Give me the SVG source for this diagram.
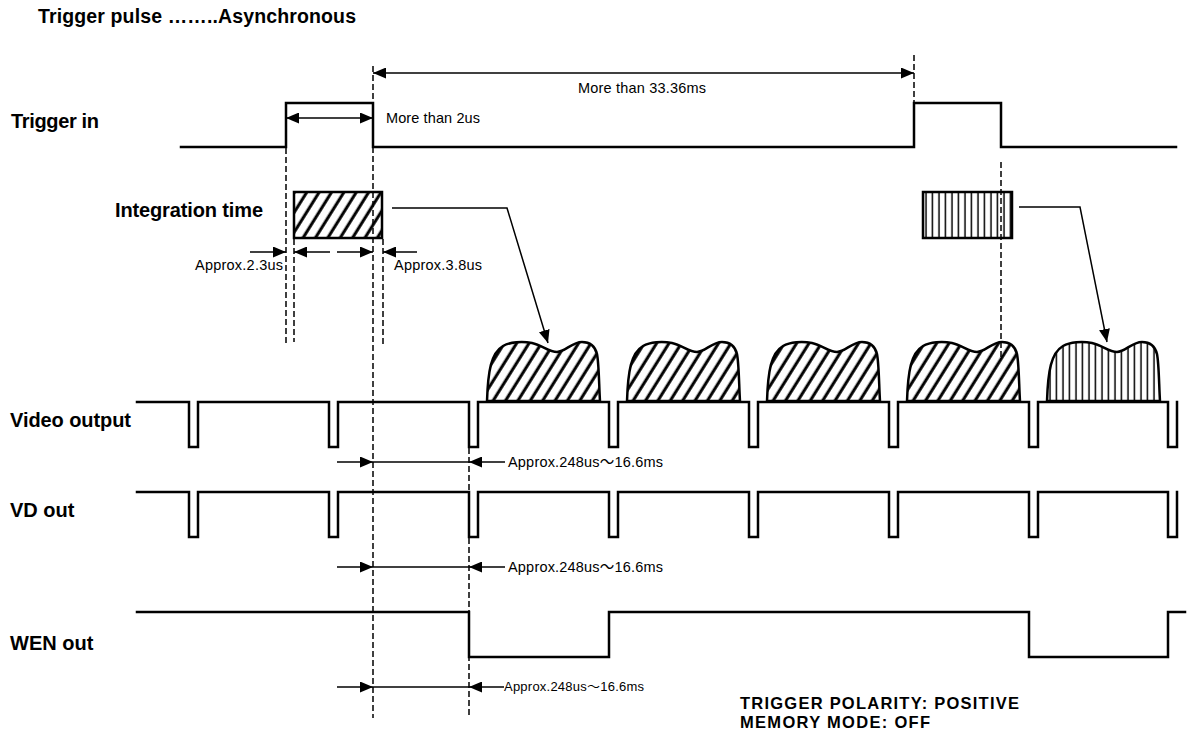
<svg xmlns="http://www.w3.org/2000/svg" width="1188" height="738" viewBox="0 0 1188 738">
<style>
.sig{fill:none;stroke:#000;stroke-width:2.5;stroke-linejoin:miter;stroke-linecap:square}
.dash{fill:none;stroke:#000;stroke-width:1.5;stroke-dasharray:6 3}
.dim{fill:none;stroke:#000;stroke-width:1.5}
.lbl{font-family:"Liberation Sans",Arial,sans-serif;font-weight:bold;font-size:20px;fill:#000}
.sm{font-family:"Liberation Sans","Noto Sans CJK JP",sans-serif;font-size:14.5px;fill:#000}
.hump{stroke:#000;stroke-width:2.5}
</style>
<defs>
<marker id="ah" markerUnits="userSpaceOnUse" markerWidth="13" markerHeight="11" refX="13" refY="5.5" orient="auto-start-reverse" viewBox="0 0 13 11">
<path d="M0,0 L13,5.5 L0,11 Z" fill="#000"/>
</marker>
<pattern id="diag" patternUnits="userSpaceOnUse" width="10.5" height="20" patternTransform="rotate(32)">
<rect width="10.5" height="20" fill="#fff"/>
<line x1="5" y1="-1" x2="5" y2="21" stroke="#000" stroke-width="3"/>
</pattern>
<pattern id="vert" patternUnits="userSpaceOnUse" width="6.5" height="10">
<rect width="6.5" height="10" fill="#fff"/>
<line x1="3" y1="-1" x2="3" y2="11" stroke="#000" stroke-width="1.5"/>
</pattern>
<path id="humpShape" d="M0,0 C1,-30 4,-48 16,-55 C23,-59 35,-60 45,-58 C55,-56 62,-49 70,-49 C78,-49 85,-59 95,-59 C103,-59 108,-55 110,-47 C112,-37 112,-15 113,0 Z"/>
</defs>
<rect width="1188" height="738" fill="#fff"/>

<text x="38" y="23" class="lbl" style="font-size:19.5px" textLength="318">Trigger pulse ……..Asynchronous</text>

<g id="trigger-in">
<text x="11" y="128" class="lbl" textLength="88">Trigger in</text>
<path class="sig" d="M181,147 H286 V103 H373 V147 H914 V103 H1001 V147 H1176"/>
</g>

<g id="integration-time">
<text x="115" y="217" class="lbl" textLength="148">Integration time</text>
<rect x="294" y="192" width="88" height="46" fill="url(#diag)" stroke="#000" stroke-width="2.5"/>
<rect x="923" y="192" width="89" height="46" fill="url(#vert)" stroke="#000" stroke-width="2.5"/>
</g>

<g id="video-output">
<text x="10" y="427" class="lbl" textLength="121">Video output</text>
<use href="#humpShape" x="487" y="401" fill="url(#diag)" class="hump"/>
<use href="#humpShape" x="627" y="401" fill="url(#diag)" class="hump"/>
<use href="#humpShape" x="767" y="401" fill="url(#diag)" class="hump"/>
<use href="#humpShape" x="907" y="401" fill="url(#diag)" class="hump"/>
<use href="#humpShape" x="1047" y="401" fill="url(#vert)" class="hump"/>
<path class="sig" d="M137,402 H189 V447 H198 V402 H329 V447 H338 V402 H469 V447 H478 V402 H609 V447 H618 V402 H749 V447 H758 V402 H889 V447 H898 V402 H1029 V447 H1038 V402 H1168 V447 H1177 V402"/>
</g>

<g id="vd-out">
<text x="10" y="517" class="lbl">VD out</text>
<path class="sig" d="M137,492 H189 V537 H198 V492 H329 V537 H338 V492 H469 V537 H478 V492 H609 V537 H618 V492 H749 V537 H758 V492 H889 V537 H898 V492 H1029 V537 H1038 V492 H1168 V537 H1177 V492"/>
</g>

<g id="wen-out">
<text x="10" y="650" class="lbl">WEN out</text>
<path class="sig" d="M137,612 H469 V657 H609 V612 H1029 V657 H1168 V612 H1185"/>
</g>

<g id="connectors">
<path class="dash" d="M286,148 V345"/>
<path class="dash" d="M294,239 V342"/>
<path class="dash" d="M373,66 V718"/>
<path class="dash" d="M383,239 V344"/>
<path class="dash" d="M469,448 V718"/>
<path class="dash" d="M914,55 V102"/>
<path class="dash" d="M1001,162 V360"/>

<path class="dim" d="M373,73 H914" marker-start="url(#ah)" marker-end="url(#ah)"/>
<path class="dim" d="M286,118 H373" marker-start="url(#ah)" marker-end="url(#ah)"/>

<path class="dim" d="M250,252 H286" marker-end="url(#ah)"/>
<path class="dim" d="M330,252 H294" marker-end="url(#ah)"/>
<path class="dim" d="M337,252 H373" marker-end="url(#ah)"/>
<path class="dim" d="M417,252 H383" marker-end="url(#ah)"/>

<path class="dim" d="M392,208 H507 L548,343" marker-end="url(#ah)"/>
<path class="dim" d="M1019,207 H1080 L1107,342" marker-end="url(#ah)"/>

<path class="dim" d="M337,462 H373" marker-end="url(#ah)"/>
<path class="dim" d="M373,462 H469"/>
<path class="dim" d="M505,462 H469" marker-end="url(#ah)"/>

<path class="dim" d="M337,567 H373" marker-end="url(#ah)"/>
<path class="dim" d="M373,567 H469"/>
<path class="dim" d="M505,567 H469" marker-end="url(#ah)"/>

<path class="dim" d="M337,687 H373" marker-end="url(#ah)"/>
<path class="dim" d="M373,687 H469"/>
<path class="dim" d="M504,687 H469" marker-end="url(#ah)"/>
</g>

<g id="labels">
<text x="642" y="93" class="sm" text-anchor="middle" textLength="128">More than 33.36ms</text>
<text x="386" y="123" class="sm" textLength="94">More than 2us</text>
<text x="283" y="270" class="sm" text-anchor="end" textLength="88">Approx.2.3us</text>
<text x="394" y="270" class="sm" textLength="88">Approx.3.8us</text>
<text x="508" y="467" class="sm" textLength="155">Approx.248us～16.6ms</text>
<text x="508" y="572" class="sm" textLength="155">Approx.248us～16.6ms</text>
<text x="504" y="691" class="sm" style="font-size:13px" textLength="140">Approx.248us～16.6ms</text>
</g>

<g id="notes">
<text x="740" y="709" class="lbl" style="font-size:16.5px" textLength="279">TRIGGER POLARITY: POSITIVE</text>
<text x="740" y="728" class="lbl" style="font-size:16.5px" textLength="190">MEMORY MODE: OFF</text>
</g>
</svg>
